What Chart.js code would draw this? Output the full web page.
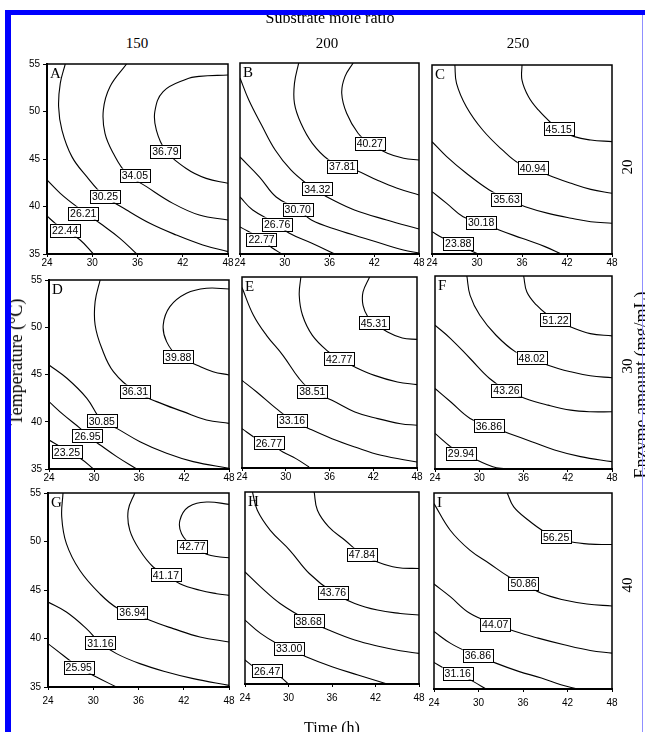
<!DOCTYPE html>
<html>
<head>
<meta charset="utf-8">
<script src="https://cdn.jsdelivr.net/npm/chart.js@4.4.1/dist/chart.umd.min.js"></script>
<style>
  html, body { margin:0; padding:0; background:#fff; }
  #wrap { position:relative; width:645px; height:732px; overflow:hidden; background:#fff; }
  canvas { position:absolute; }
  .t { position:absolute; white-space:nowrap; line-height:1; font-family:"Liberation Serif","DejaVu Serif",serif; color:#000; transform:translate(-50%,-50%); }
  .r { transform:translate(-50%,-50%) rotate(-90deg); }
  .bar { position:absolute; background:#0000ff; z-index:5; }
</style>
</head>
<body>
<div id="wrap"></div>
<script>
// ---------- data ----------
const xTicks = [24, 30, 36, 42, 48];          // Time (h)
const yTicks = [35, 40, 45, 50, 55];          // Temperature (°C)
const ratioLabels = ['150', '200', '250'];    // Substrate mole ratio (columns)
const enzymeLabels = ['20', '30', '40'];      // Enzyme amount (rows)
const panelLetters = ['A','B','C','D','E','F','G','H','I'];

// contour lines: [time, temperature] points
const contoursA = [
  [[48,53.84],[44.2,53.7],[42.46,53.4],[39.4,52.1],[38.3,50.0],[38.5,48.05],[39.7,45.95],[42.46,44.0],[45.1,42.96],[48,42.44]],
  [[34.55,55],[32.35,52.61],[31.47,50.16],[31.69,47.7],[32.79,45.6],[34.55,43.49],[37.19,42.09],[40.7,40.33],[44.2,39.1],[48,38.58]],
  [[26.42,55],[25.76,52.96],[25.54,50.51],[25.98,48.05],[27.3,45.25],[29.27,43.14],[31.47,41.21],[34.55,39.63],[37.63,38.23],[41.14,37.0],[44.66,35.95],[48,35.25]],
  [[24,42.79],[25.76,41.39],[27.96,39.98],[31.03,38.23],[33.67,36.65],[35.9,35]],
  [[24,39.0],[25.1,38.23],[26.4,37.5],[28.4,36.47],[30.15,35]]
];
const labelsA = [['36.79',39.7,45.8],['34.05',35.65,43.3],['30.25',31.7,41.1],['26.21',28.8,39.3],['22.44',26.4,37.5]];

const contoursB = [
  [[39.17,55],[38.07,53.57],[37.64,51.83],[38.3,49.73],[39.83,47.64],[41.35,46.59],[43.76,45.54],[45.94,45.02],[48,44.84]],
  [[31.87,55],[31.3,52.87],[31.3,50.78],[32.17,48.69],[33.7,46.59],[35.9,44.84],[37.73,44.22],[39.48,43.8],[42.36,42.75],[44.98,41.91],[48,41.18]],
  [[24,53.43],[25.18,51.13],[26.89,48.51],[28.72,45.89],[30.82,43.8],[33.05,42.3],[34.36,41.6],[36.2,40.75],[39.34,39.61],[43.67,38.56],[48,37.62]],
  [[24,45.16],[26.62,43.06],[28.85,40.97],[31.74,39.71],[33.57,38.56],[37.11,37.51],[41.44,36.47],[45.9,35.42],[48,35.1]],
  [[24,40.97],[25.7,39.61],[28.98,38.14],[30.56,37.2],[33.57,36.15],[36.72,35]],
  [[24,37.83],[26.89,36.57],[28.33,35.63],[29.64,35]]
];
const labelsB = [['40.27',41.4,46.6],['37.81',37.7,44.2],['34.32',34.36,41.81],['30.70',31.74,39.71],['26.76',28.98,38.14],['22.77',26.89,36.57]];

const contoursC = [
  [[36.0,55],[36.0,53.41],[36.87,51.65],[38.18,50.24],[39.93,48.83],[40.89,48.23],[42.98,47.42],[45.17,47.06],[48,46.89]],
  [[27.05,55],[27.27,53.06],[28.58,50.59],[30.76,48.12],[33.38,46.01],[35.56,44.6],[37.44,44.14],[39.49,43.36],[42.55,42.48],[45.17,41.84],[48,41.42]],
  [[24,46.89],[25.96,45.3],[28.58,43.54],[31.64,41.77],[33.95,40.82],[36.44,40.01],[39.49,39.3],[42.55,38.78],[45.17,38.42],[48,38.25]],
  [[24,41.6],[25.96,40.36],[28.15,38.95],[30.55,38.35],[32.95,37.54],[36.0,36.66],[39.06,35.78],[41.24,35]],
  [[24,37.36],[25.53,36.66],[27.49,36.13],[29.02,35.43],[30.11,35]]
];
const labelsC = [['45.15',40.89,48.23],['40.94',37.44,44.14],['35.63',33.95,40.82],['30.18',30.55,38.35],['23.88',27.49,36.13]];

const contoursD = [
  [[48,54.05],[44.99,54.12],[42.33,53.59],[40.12,52.18],[39.23,50.24],[39.68,48.48],[41.23,46.89],[43.66,46.01],[45.87,45.3],[48,44.95]],
  [[30.82,55],[30.15,52.71],[30.15,50.24],[31.04,47.77],[32.59,45.3],[35.47,43.25],[38.35,42.13],[41.89,41.07],[44.99,40.19],[48,39.83]],
  [[24,46.01],[26.39,44.6],[29.05,42.48],[31.04,40.12],[33.03,39.3],[36.13,37.89],[39.68,36.66],[43.22,35.78],[48,35.07]],
  [[24,42.13],[25.95,40.72],[28.16,39.3],[29.14,38.53],[30.82,37.54],[33.03,36.31],[35.69,35]],
  [[24,38.07],[25.51,37.36],[26.39,36.84],[28.16,36.13],[29.93,35]]
];
const labelsD = [['39.88',41.23,46.89],['36.31',35.47,43.25],['30.85',31.04,40.12],['26.95',29.14,38.53],['23.25',26.39,36.84]];

const contoursE = [
  [[41.5,55],[40.6,53.43],[40.6,52.03],[41.27,50.81],[42.08,50.22],[43.96,49.24],[45.98,48.61],[48,48.47]],
  [[32.07,55],[31.85,53.08],[32.3,50.99],[33.65,48.89],[35.89,47.15],[37.32,46.45],[39.48,45.58],[42.17,44.7],[45.31,44.01],[48,43.73]],
  [[24,53.9],[25.57,50.99],[27.36,48.89],[29.61,46.8],[31.85,44.36],[33.64,43.03],[36.34,42.09],[39.48,40.87],[42.62,40.17],[45.76,39.64],[48,39.47]],
  [[24,44.18],[26.02,42.96],[28.71,41.21],[30.86,39.99],[33.2,39.12],[36.34,38.07],[39.48,37.2],[43.07,36.33],[48,35.63]],
  [[24,39.12],[26.02,38.07],[27.68,37.62],[29.61,36.68],[31.4,35.98],[33.2,35.1]]
];
const labelsE = [['45.31',42.08,50.22],['42.77',37.32,46.45],['38.51',33.64,43.03],['33.16',30.86,39.99],['26.77',27.68,37.62]];

const contoursF = [
  [[36.02,55],[36.46,53.34],[37.78,51.97],[39.33,50.93],[40.34,50.48],[42.41,49.72],[45.05,49.03],[48,48.79]],
  [[28.32,55],[28.76,53.0],[30.08,50.93],[32.28,48.86],[34.92,47.14],[37.12,46.52],[39.33,45.76],[42.41,45.07],[45.05,44.66],[48,44.45]],
  [[24,49.9],[26.11,48.52],[28.76,46.45],[31.4,44.38],[33.69,43.17],[36.24,42.31],[39.33,41.62],[42.41,41.1],[45.05,40.93],[48,40.93]],
  [[24,43.35],[26.11,41.97],[28.76,40.24],[31.31,39.48],[34.04,38.69],[37.12,37.83],[40.21,36.97],[43.73,36.28],[48,35.76]],
  [[24,38.69],[26.11,37.31],[27.52,36.62],[29.64,35.93],[31.84,35.24],[33.6,35]]
];
const labelsF = [['51.22',40.34,50.48],['48.02',37.12,46.52],['43.26',33.69,43.17],['36.86',31.31,39.48],['29.94',27.52,36.62]];

const contoursG = [
  [[48,53.83],[45.03,54.07],[42.6,53.56],[41.49,52.18],[41.71,50.81],[43.17,49.5],[45.03,48.68],[46.8,48.4],[48,48.33]],
  [[35.51,55],[34.63,53.21],[34.85,51.15],[36.18,49.09],[37.95,47.37],[39.63,46.58],[41.49,45.65],[44.15,44.97],[46.36,44.62],[48,44.45]],
  [[25.99,55],[25.82,52.53],[26.44,49.78],[28.21,47.03],[30.86,44.62],[33.3,43.08],[35.2,42.73],[37.51,41.87],[40.6,41.02],[44.15,40.16],[48,39.64]],
  [[24,43.76],[26.44,42.73],[29.09,41.02],[30.95,39.54],[33.08,38.44],[36.18,37.41],[39.72,36.55],[43.26,35.86],[48,35.17]],
  [[24,39.47],[25.99,38.27],[28.07,37.06],[30.42,36.03],[33.08,35]]
];
const labelsG = [['42.77',43.17,49.5],['41.17',39.63,46.58],['36.94',35.2,42.73],['31.16',30.95,39.54],['25.95',28.07,37.06]];

const contoursH = [
  [[33.54,55],[33.99,53.09],[35.55,51.36],[37.79,49.97],[40.12,48.52],[42.27,47.72],[44.96,47.13],[48,47.03]],
  [[25.03,55],[25.7,53.09],[27.49,51.01],[30.18,48.93],[32.87,46.51],[36.14,44.53],[39.14,43.39],[42.27,42.7],[45.4,42.35],[48,42.18]],
  [[24,46.68],[26.15,45.12],[28.84,43.39],[32.78,41.59],[35.55,40.62],[39.14,39.58],[42.72,38.88],[45.4,38.47],[48,38.19]],
  [[24,41.66],[26.15,40.27],[28.39,39.23],[30.09,38.71],[32.42,37.84],[36.0,36.8],[39.58,35.94],[43.61,35]],
  [[24,37.5],[25.25,36.8],[27.05,36.39],[28.84,35.76],[29.96,35]]
];
const labelsH = [['47.84',40.12,48.52],['43.76',36.14,44.53],['38.68',32.78,41.59],['33.00',30.09,38.71],['26.47',27.05,36.39]];

const contoursI = [
  [[33.87,55],[34.75,53.58],[36.73,52.22],[38.92,51.03],[40.46,50.53],[42.43,50.02],[45.06,49.78],[48,49.75]],
  [[24,53.92],[26.19,51.2],[28.83,49.17],[31.46,47.81],[34.09,46.46],[36.07,45.78],[38.48,44.76],[41.55,44.08],[44.62,43.68],[48,43.47]],
  [[24,45.71],[26.19,44.42],[28.83,42.73],[32.25,41.61],[34.97,40.86],[38.04,40.19],[41.55,39.51],[45.06,38.93],[48,38.66]],
  [[24,40.86],[26.19,39.68],[28.39,38.83],[29.92,38.42],[32.34,37.64],[35.41,36.8],[38.48,36.12],[41.11,35.44],[43.31,35]],
  [[24,37.71],[25.76,36.97],[27.2,36.63],[29.27,35.78],[31.02,35]]
];
const labelsI = [['56.25',40.46,50.53],['50.86',36.07,45.78],['44.07',32.25,41.61],['36.86',29.92,38.42],['31.16',27.2,36.63]];

const allContours = [contoursA, contoursB, contoursC, contoursD, contoursE, contoursF, contoursG, contoursH, contoursI];
const allLabels = [labelsA, labelsB, labelsC, labelsD, labelsE, labelsF, labelsG, labelsH, labelsI];

// ---------- layout (plot area rectangles, px) ----------
const rects = [
  {l:47, r:228, t:64, b:254}, {l:236, r:419, t:63, b:254}, {l:428, r:612, t:65, b:254},
  {l:49, r:229, t:280, b:469}, {l:238, r:417, t:277, b:468}, {l:431, r:612, t:276, b:469},
  {l:48, r:229, t:493, b:687}, {l:241, r:419, t:492, b:684}, {l:430, r:612, t:493, b:689}
];

const wrap = document.getElementById('wrap');
function addText(txt, x, y, size, rotate) {
  const d = document.createElement('div');
  d.className = 't' + (rotate ? ' r' : '');
  d.style.left = x + 'px'; d.style.top = y + 'px'; d.style.fontSize = size + 'px';
  d.textContent = txt;
  wrap.appendChild(d);
}
function addBar(l, t, w, h, col) {
  const d = document.createElement('div');
  d.className = 'bar';
  d.style.left = l + 'px'; d.style.top = t + 'px'; d.style.width = w + 'px'; d.style.height = h + 'px';
  if (col) d.style.background = col;
  wrap.appendChild(d);
}

const overlay = {
  id: 'overlay',
  afterDatasetsDraw(chart, args, opts) {
    const ctx = chart.ctx, a = chart.chartArea;
    const xs = chart.scales.x, ys = chart.scales.y;
    ctx.save();
    ctx.strokeStyle = '#000';
    ctx.lineWidth = 1.5;
    ctx.strokeRect(a.left, a.top, a.right - a.left, a.bottom - a.top);
    // contour value labels
    ctx.font = '10.5px "Liberation Sans", Arial, sans-serif';
    ctx.textAlign = 'center';
    ctx.textBaseline = 'middle';
    opts.labels.forEach(([txt, x, y]) => {
      const px = xs.getPixelForValue(x), py = ys.getPixelForValue(y);
      const w = ctx.measureText(txt).width + 4, h = 13;
      ctx.fillStyle = '#fff';
      ctx.fillRect(px - w/2, py - h/2, w, h);
      ctx.lineWidth = 1;
      ctx.strokeStyle = '#000';
      ctx.strokeRect(Math.round(px - w/2) + 0.5, Math.round(py - h/2) + 0.5, Math.round(w), h);
      ctx.fillStyle = '#000';
      ctx.fillText(txt, px, py + 1);
    });
    // panel letter
    ctx.font = '15px "Liberation Serif", serif';
    ctx.textAlign = 'left';
    ctx.textBaseline = 'top';
    ctx.fillText(opts.letter, a.left + 3, a.top + 3);
    ctx.restore();
  }
};

rects.forEach((rc, i) => {
  const col = i % 3, row = Math.floor(i / 3);
  const padL = col === 0 ? 40 : 4, padR = 10, padT = 8, padB = row === 2 ? 22 : 15;
  const cv = document.createElement('canvas');
  const W = rc.r - rc.l + padL + padR, H = rc.b - rc.t + padT + padB;
  cv.width = W; cv.height = H;
  cv.style.left = (rc.l - padL) + 'px'; cv.style.top = (rc.t - padT) + 'px';
  cv.style.width = W + 'px'; cv.style.height = H + 'px';
  wrap.appendChild(cv);
  new Chart(cv.getContext('2d'), {
    type: 'scatter',
    data: {
      datasets: allContours[i].map(c => ({
        data: c.map(p => ({x: p[0], y: p[1]})),
        showLine: true, borderColor: '#000', borderWidth: 1.1,
        pointRadius: 0, tension: 0.4, fill: false
      }))
    },
    options: {
      responsive: false, animation: false, events: [],
      layout: {padding: {left: col === 0 ? 0 : padL, right: padR, top: padT, bottom: 0}},
      plugins: {legend: {display: false}, tooltip: {enabled: false},
                overlay: {labels: allLabels[i], letter: panelLetters[i]}},
      scales: {
        x: {
          type: 'linear', min: 24, max: 48,
          afterBuildTicks: s => { s.ticks = xTicks.map(v => ({value: v})); },
          ticks: {font: {family: '"Liberation Sans", Arial, sans-serif', size: 10}, color: '#000',
                  padding: row === 2 ? 5 : 0, maxRotation: 0, autoSkip: false},
          grid: {drawOnChartArea: false, tickLength: 3, color: '#000', lineWidth: 1},
          border: {color: '#000', width: 2},
          afterFit: s => { s.height = padB; s.paddingLeft = 0; s.paddingRight = 0; }
        },
        y: {
          type: 'linear', min: 35, max: 55, display: col === 0,
          afterBuildTicks: s => { s.ticks = yTicks.map(v => ({value: v})); },
          ticks: {font: {family: '"Liberation Sans", Arial, sans-serif', size: 10}, color: '#000', padding: 3},
          grid: {drawOnChartArea: false, tickLength: 4, color: '#000', lineWidth: 1},
          border: {color: '#000', width: 2},
          afterFit: s => { s.width = padL; s.paddingTop = 0; s.paddingBottom = 0; }
        }
      }
    },
    plugins: [overlay]
  });
});

// ---------- titles ----------
addText('Substrate mole ratio', 330, 18, 16, false);
const colCenters = [137, 327, 518];
ratioLabels.forEach((t, i) => addText(t, colCenters[i], 43, 15, false));
const rowCenters = [167, 366, 585];
enzymeLabels.forEach((t, i) => addText(t, 627, rowCenters[i], 15, true));
addText('Enzyme amount (mg/mL)', 641, 385, 18, true);
addText('Temperature (\u00B0C)', 16, 362, 18, true);
addText('Time (h)', 332, 728, 16, false);

// ---------- blue frame ----------
addBar(5, 10, 640, 5);
addBar(5, 10, 6, 722);
addBar(642, 15, 1, 717, '#8f8fff');
</script>
</body>
</html>
